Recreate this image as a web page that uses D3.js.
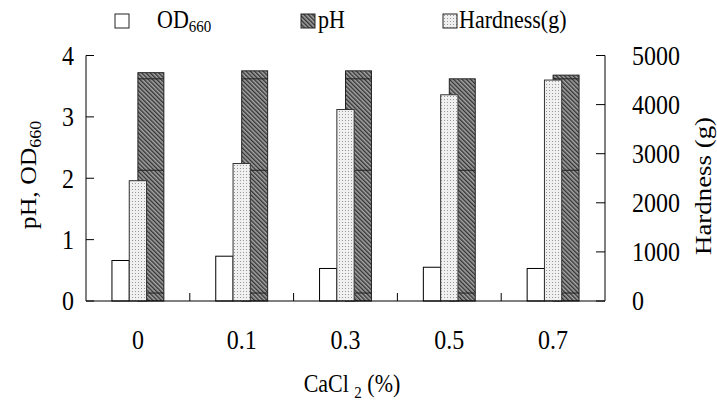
<!DOCTYPE html>
<html>
<head>
<meta charset="utf-8">
<script src="https://cdn.jsdelivr.net/npm/d3@7/dist/d3.min.js"></script>
<style>
  html, body { margin: 0; padding: 0; background: #fff; }
  svg { display: block; }
  text { font-family: "Liberation Serif", "Times New Roman", serif; fill: #000; }
</style>
</head>
<body>
<svg id="chart" width="717" height="406"></svg>
<script>
// ---- data ----
const categories = ["0", "0.1", "0.3", "0.5", "0.7"];
const od660 = [0.66, 0.73, 0.53, 0.55, 0.53];
const pH = [3.72, 3.75, 3.75, 3.62, 3.68];
const hardness = [2450, 2800, 3900, 4200, 4500];
const leftTicks = [0, 1, 2, 3, 4];
const rightTicks = [0, 1000, 2000, 3000, 4000, 5000];
const pHBandLines = [0.13, 2.13, 3.62];

// ---- layout ----
const plot = { left: 86, right: 605, top: 55.5, bottom: 301 };
const SY = 1.12; // vertical stretch of glyphs in the reference
const svg = d3.select("#chart");

const defs = svg.append("defs");
const hatch = defs.append("pattern").attr("id", "hatch")
  .attr("patternUnits", "userSpaceOnUse").attr("width", 3).attr("height", 3)
  .attr("patternTransform", "rotate(-45)");
hatch.append("rect").attr("width", 3).attr("height", 3).attr("fill", "#a4a4a4");
hatch.append("rect").attr("width", 1.4).attr("height", 3).attr("fill", "#333");

const dots = defs.append("pattern").attr("id", "dots")
  .attr("patternUnits", "userSpaceOnUse").attr("width", 3).attr("height", 3);
dots.append("rect").attr("width", 3).attr("height", 3).attr("fill", "#f0f0f0");
dots.append("rect").attr("width", 1).attr("height", 1).attr("fill", "#999");

const x = d3.scaleBand().domain(categories).range([plot.left, plot.right]).padding(0);
const sub = d3.scaleBand().domain(["od", "hard", "ph"]).range([0, x.bandwidth()])
  .paddingInner(0).paddingOuter(1.5);
const yL = d3.scaleLinear().domain([0, 4]).range([plot.bottom, plot.top]);
const yR = d3.scaleLinear().domain([0, 5000]).range([plot.bottom, plot.top]);
const bw = sub.bandwidth();

// pH bars (behind, wider, overlapping hardness)
const gPH = svg.append("g");
categories.forEach((c, i) => {
  const x0 = x(c) + sub("ph") - bw / 2;
  gPH.append("rect").attr("x", x0).attr("y", yL(pH[i]))
    .attr("width", bw * 1.5).attr("height", yL(0) - yL(pH[i]))
    .attr("fill", "url(#hatch)").attr("stroke", "#222").attr("stroke-width", 1);
  pHBandLines.forEach(v => {
    if (v < pH[i]) {
      gPH.append("line").attr("x1", x0).attr("x2", x0 + bw * 1.5)
        .attr("y1", yL(v)).attr("y2", yL(v))
        .attr("stroke", "#222").attr("stroke-width", 1);
    }
  });
});

// OD bars
svg.append("g").selectAll("rect").data(categories).join("rect")
  .attr("x", c => x(c) + sub("od"))
  .attr("y", (c, i) => yL(od660[i]))
  .attr("width", bw)
  .attr("height", (c, i) => yL(0) - yL(od660[i]))
  .attr("fill", "#fff").attr("stroke", "#000").attr("stroke-width", 1);

// Hardness bars
svg.append("g").selectAll("rect").data(categories).join("rect")
  .attr("x", c => x(c) + sub("hard"))
  .attr("y", (c, i) => yR(hardness[i]))
  .attr("width", bw)
  .attr("height", (c, i) => yR(0) - yR(hardness[i]))
  .attr("fill", "url(#dots)").attr("stroke", "#333").attr("stroke-width", 1);

// ---- axes ----
const axG = svg.append("g").attr("fill", "none").attr("stroke", "#000").attr("stroke-width", 1);
axG.append("line").attr("x1", plot.left).attr("x2", plot.left).attr("y1", yL(4)).attr("y2", yL(0));
leftTicks.forEach(t => axG.append("line").attr("x1", plot.left).attr("x2", plot.left + 8)
  .attr("y1", yL(t)).attr("y2", yL(t)));
axG.append("line").attr("x1", plot.right).attr("x2", plot.right).attr("y1", yR(5000)).attr("y2", yR(0));
rightTicks.forEach(t => axG.append("line").attr("x1", plot.right - 9).attr("x2", plot.right)
  .attr("y1", yR(t)).attr("y2", yR(t)));
axG.append("line").attr("x1", plot.left).attr("x2", plot.right).attr("y1", plot.bottom).attr("y2", plot.bottom);
categories.slice(1).forEach(c => axG.append("line").attr("x1", x(c)).attr("x2", x(c))
  .attr("y1", plot.bottom).attr("y2", plot.bottom - 8));

// helper: stretched text placed at (px, py)
function stext(parent, px, py, rot) {
  return parent.append("text")
    .attr("transform", `translate(${px},${py}) scale(1,${SY})` + (rot ? ` rotate(${rot})` : ""));
}

// tick labels
const fs = 24;
const tg = svg.append("g");
leftTicks.forEach(d => stext(tg, 74, yL(d)).attr("dy", "0.35em")
  .attr("text-anchor", "end").attr("font-size", fs).text(d));
rightTicks.forEach(d => stext(tg, 632, yR(d)).attr("dy", "0.35em")
  .attr("text-anchor", "start").attr("font-size", fs).text(d));
categories.forEach(c => stext(tg, x(c) + x.bandwidth() / 2, 349)
  .attr("text-anchor", "middle").attr("font-size", fs).text(c));

// axis titles
const lt = stext(svg, 36, 175, -90).attr("text-anchor", "middle").attr("font-size", 23);
lt.append("tspan").text("pH, OD");
lt.append("tspan").attr("font-size", 16).attr("dy", 5).text("660");

stext(svg, 711, 186, -90).attr("text-anchor", "middle").attr("font-size", 24).text("Hardness (g)");

const xt = stext(svg, 352, 392).attr("text-anchor", "middle").attr("font-size", 22);
xt.append("tspan").text("CaCl ");
xt.append("tspan").attr("font-size", 15).attr("dy", 5).text("2");
xt.append("tspan").attr("dy", -5).text(" (%)");

// legend
const lg = svg.append("g");
const legendItems = [
  { fill: "#fff", sx: 115, tx: 157, label: "OD", subLabel: "660" },
  { fill: "url(#hatch)", sx: 301, tx: 318, label: "pH", subLabel: null },
  { fill: "url(#dots)", sx: 443, tx: 459, label: "Hardness(g)", subLabel: null }
];
legendItems.forEach(it => {
  lg.append("rect").attr("x", it.sx).attr("y", 14).attr("width", 14).attr("height", 14)
    .attr("fill", it.fill).attr("stroke", "#222").attr("stroke-width", 1);
  const t = stext(lg, it.tx, 28).attr("font-size", 22);
  t.append("tspan").text(it.label);
  if (it.subLabel) t.append("tspan").attr("font-size", 15).attr("dy", 4).text(it.subLabel);
});
</script>
</body>
</html>
